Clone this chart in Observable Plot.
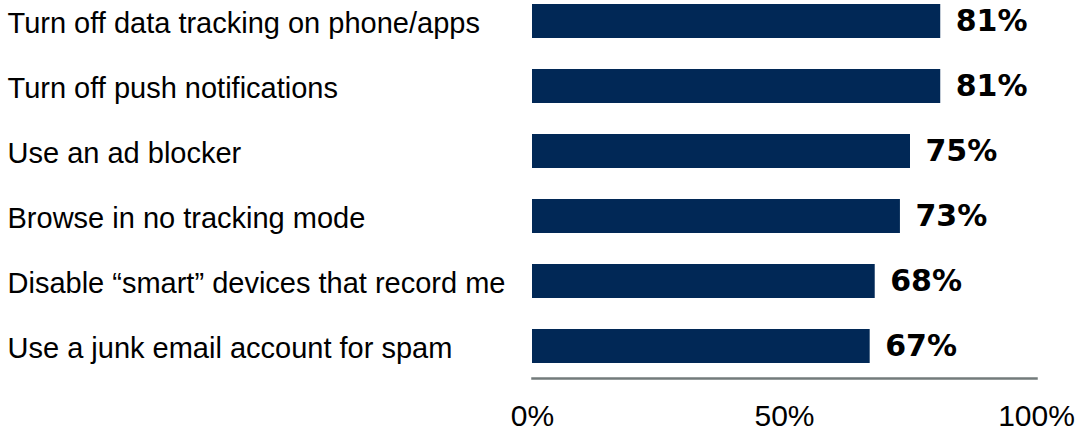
<!DOCTYPE html>
<html><head><meta charset="utf-8">
<script src="https://cdn.jsdelivr.net/npm/d3@7"></script>
<script src="https://cdn.jsdelivr.net/npm/@observablehq/plot@0.6"></script>
<style>body{margin:0;background:#fff}</style>
</head><body><div id="chart"></div>
<script>
const categories = [
  "Turn off data tracking on phone/apps",
  "Turn off push notifications",
  "Use an ad blocker",
  "Browse in no tracking mode",
  "Disable \u201csmart\u201d devices that record me",
  "Use a junk email account for spam"
];
const values = [81, 81, 75, 73, 68, 67];
const xTicks = [0, 50, 100];

const data = categories.map((c, i) => ({category: c, value: values[i]}));

const chart = Plot.plot({
  width: 1082,
  height: 433,
  marginLeft: 532,
  marginRight: 46,
  marginTop: 0,
  marginBottom: 55,
  style: {fontFamily: "Liberation Sans, Arial, sans-serif", background: "#fff"},
  x: {domain: [0, 100]},
  y: {domain: categories, range: [-14, 380], paddingInner: 0.48, paddingOuter: 0.24},
  marks: [
    Plot.barX(data, {x: "value", y: "category", fill: "#012856"}),
    Plot.text(data, {x: "value", y: "category", text: d => d.value + "%", textAnchor: "start", dx: 15, fontSize: 30, fontWeight: "bold", fontFamily: "DejaVu Sans", fill: "#000"}),
    Plot.text(data, {y: "category", text: "category", frameAnchor: "left", textAnchor: "start", dx: -525, dy: 2, fontSize: 29, fill: "#000"}),
    Plot.frame({anchor: "bottom", stroke: "#737b7b", strokeWidth: 2.5}),
    Plot.axisX({ticks: xTicks, tickSize: 0, tickPadding: 26, tickFormat: d => d + "%", fontSize: 30, fill: "#000", label: null}),
    Plot.axisY({ticks: [], label: null})
  ]
});
document.getElementById("chart").appendChild(chart);
</script>
</body></html>
